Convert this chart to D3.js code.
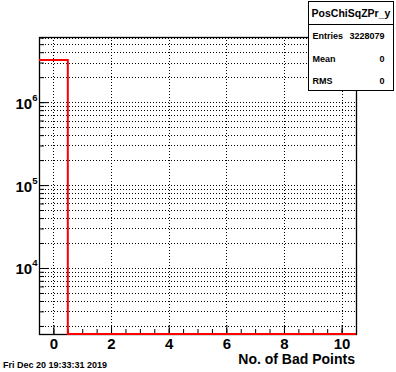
<!DOCTYPE html>
<html>
<head>
<meta charset="utf-8">
<script src="https://cdn.jsdelivr.net/npm/d3@7"></script>
<style>
  body { margin: 0; background: #fff; }
  svg { display: block; font-family: "Liberation Sans", Arial, sans-serif; font-weight: bold; }
</style>
</head>
<body>
<div id="chart"></div>
<script>
// histogram contents, one bin per integer from 0 to 10
var binCenters = [0, 1, 2, 3, 4, 5, 6, 7, 8, 9, 10];
var binCounts = [3228079, 0, 0, 0, 0, 0, 0, 0, 0, 0, 0];
var xTicks = [0, 2, 4, 6, 8, 10];
var yTicks = [1e4, 1e5, 1e6];
var statsTitle = "PosChiSqZPr_y";
var statsRows = [["Entries", "3228079"], ["Mean", "0"], ["RMS", "0"]];
var xTitle = "No. of Bad Points";
var dateText = "Fri Dec 20 19:33:31 2019";

var W = 396, H = 372;
var frame = {left: 39, right: 356, top: 37, bottom: 334};

var svg = d3.select("#chart").append("svg")
  .attr("width", W).attr("height", H);

var x = d3.scaleLinear().domain([-0.5, 10.5]).range([frame.left, frame.right]);
var y = d3.scaleLog().domain([1600, 6.1e6]).range([frame.bottom, frame.top]);

// minor ticks on log axis: 1..9 x 10^k inside the domain
var yMinor = [];
for (var k = 3; k <= 6; k++) {
  for (var m = 1; m <= 9; m++) {
    var v = m * Math.pow(10, k);
    if (v >= y.domain()[0] && v <= y.domain()[1]) yMinor.push(v);
  }
}
var xMinor = d3.range(-0.5, 10.51, 0.5);

// grid
var grid = svg.append("g").attr("stroke", "#000").attr("stroke-dasharray", "1,2").attr("stroke-width", 1);
grid.selectAll(".gy").data(yMinor).enter().append("line")
  .attr("x1", frame.left).attr("x2", frame.right)
  .attr("y1", function(d) { return Math.round(y(d)) + 0.5; })
  .attr("y2", function(d) { return Math.round(y(d)) + 0.5; });
grid.selectAll(".gx").data(xTicks).enter().append("line")
  .attr("y1", frame.top).attr("y2", frame.bottom)
  .attr("x1", function(d) { return Math.round(x(d)) + 0.5; })
  .attr("x2", function(d) { return Math.round(x(d)) + 0.5; });

// x axis
var xAxis = svg.append("g")
  .attr("transform", "translate(0," + frame.bottom + ")")
  .call(d3.axisBottom(x).tickValues(xTicks).tickSize(-9).tickPadding(4).tickFormat(d3.format("d")));
svg.append("g")
  .attr("transform", "translate(0," + frame.bottom + ")")
  .call(d3.axisBottom(x).tickValues(xMinor).tickSize(-5).tickFormat(""));
xAxis.selectAll("text").attr("font-size", 15).attr("font-weight", "bold").attr("fill", "#000")
  .attr("font-family", "Liberation Sans, Arial, sans-serif");

// y axis
svg.append("g")
  .attr("transform", "translate(" + frame.left + ",0)")
  .call(d3.axisLeft(y).tickValues(yTicks).tickSize(-10).tickFormat(""));
svg.append("g")
  .attr("transform", "translate(" + frame.left + ",0)")
  .call(d3.axisLeft(y).tickValues(yMinor).tickSize(-5).tickFormat(""));
svg.selectAll(".domain").remove();

var yLab = svg.append("g").selectAll("text").data(yTicks).enter().append("text")
  .attr("x", 15.5).attr("y", function(d) { return y(d) + 6.5; })
  .attr("font-size", 15).attr("fill", "#000");
yLab.append("tspan").text("10");
yLab.append("tspan").attr("dy", -8).attr("font-size", 9.5)
  .text(function(d) { return Math.round(Math.log10(d)); });

// frame
svg.append("rect")
  .attr("x", frame.left + 0.5).attr("y", frame.top + 0.5)
  .attr("width", frame.right - frame.left).attr("height", frame.bottom - frame.top)
  .attr("fill", "none").attr("stroke", "#000").attr("stroke-width", 1.3);

// histogram outline, empty bins sit on the frame floor
var yFloor = y.domain()[0];
var pts = [];
binCenters.forEach(function(c, i) {
  var v = Math.max(binCounts[i], yFloor);
  pts.push([x(c - 0.5), y(v)]);
  pts.push([x(c + 0.5), y(v)]);
});
svg.append("path")
  .attr("d", d3.line()(pts))
  .attr("fill", "none").attr("stroke", "#ff0000").attr("stroke-width", 2);

// stats box
var sb = {x: 308.5, y: 1.5, w: 85, h: 89, head: 24};
svg.append("rect").attr("x", sb.x).attr("y", sb.y).attr("width", sb.w).attr("height", sb.h)
  .attr("fill", "#fff").attr("stroke", "#000");
svg.append("line").attr("x1", sb.x).attr("x2", sb.x + sb.w)
  .attr("y1", sb.head + 0.5).attr("y2", sb.head + 0.5).attr("stroke", "#000");
svg.append("text").attr("x", sb.x + sb.w / 2).attr("y", 17).attr("text-anchor", "middle")
  .attr("font-size", 10.5).text(statsTitle);
statsRows.forEach(function(r, i) {
  var ty = 39 + i * 22.5;
  svg.append("text").attr("x", sb.x + 4).attr("y", ty).attr("font-size", 9).text(r[0]);
  svg.append("text").attr("x", sb.x + sb.w - 9).attr("y", ty).attr("font-size", 9)
    .attr("text-anchor", "end").text(r[1]);
});

// titles
svg.append("text").attr("x", 355).attr("y", 364).attr("text-anchor", "end")
  .attr("font-size", 14).text(xTitle);
svg.append("text").attr("x", 3).attr("y", 368).attr("font-size", 9).text(dateText);
</script>
</body>
</html>
